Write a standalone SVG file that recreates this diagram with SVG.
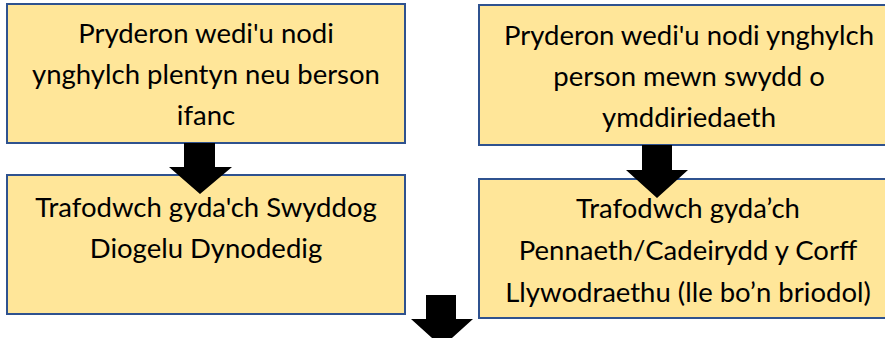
<svg xmlns="http://www.w3.org/2000/svg" width="885" height="338" viewBox="0 0 885 338">
<style>
.box{fill:#FFE699;stroke:#2F528F;stroke-width:2}
.t{font-family:Lato,"Liberation Sans",sans-serif;font-size:27.5px;fill:#000;text-anchor:middle}
.arr{fill:#000}
</style>
<rect x="0" y="0" width="885" height="338" fill="#fff"/>
<g id="node1">
<rect class="box" x="7" y="4" width="398" height="139"/>
<text class="t" x="206" y="43">Pryderon wedi'u nodi</text>
<text class="t" x="206" y="84">ynghylch plentyn neu berson</text>
<text class="t" x="206" y="125">ifanc</text>
</g>
<g id="node2">
<rect class="box" x="479" y="5" width="420" height="140"/>
<text class="t" x="689" y="45">Pryderon wedi'u nodi ynghylch</text>
<text class="t" x="689" y="86">person mewn swydd o</text>
<text class="t" x="689" y="127">ymddiriedaeth</text>
</g>
<g id="node3">
<rect class="box" x="7" y="175" width="398" height="139"/>
<text class="t" x="206" y="217">Trafodwch gyda'ch Swyddog</text>
<text class="t" x="206" y="258">Diogelu Dynodedig</text>
</g>
<g id="node4">
<rect class="box" x="479" y="179" width="420" height="139"/>
<text class="t" x="688" y="218">Trafodwch gyda’ch</text>
<text class="t" x="688" y="260">Pennaeth/Cadeirydd y Corff</text>
<text class="t" x="688" y="302">Llywodraethu (lle bo’n briodol)</text>
</g>
<g id="connectors">
<polygon class="arr" points="184,143 215,143 215,167 232,167 200,194 169,167 184,167"/>
<polygon class="arr" points="642,145 672,145 672,170 688,170 657,198 626,170 642,170"/>
<polygon class="arr" points="426,295 456,295 456,319 473,319 442,347 411,319 426,319"/>
</g>
</svg>
